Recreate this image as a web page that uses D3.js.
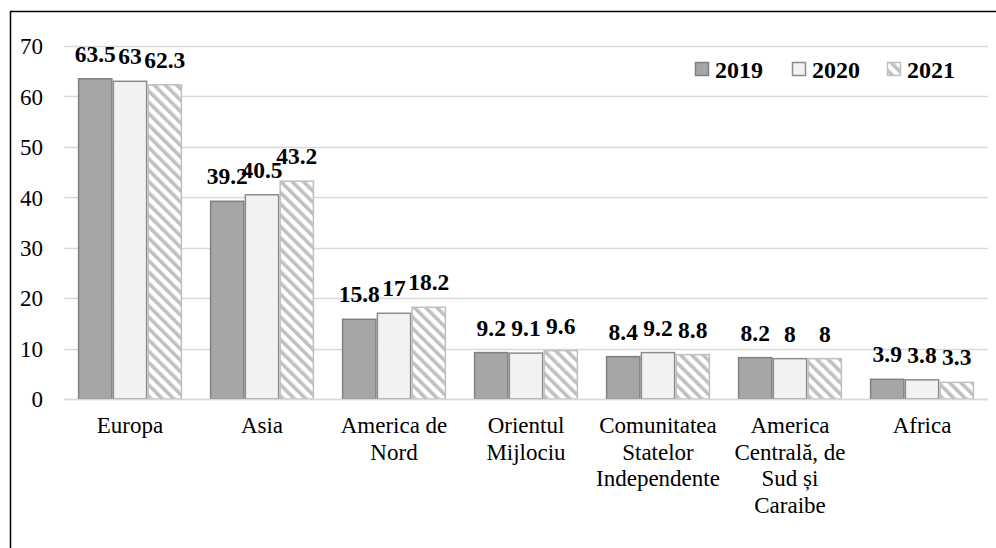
<!DOCTYPE html>
<html>
<head>
<meta charset="utf-8">
<script src="https://cdn.jsdelivr.net/npm/d3@7/dist/d3.min.js"></script>
<style>
  html, body { margin: 0; padding: 0; background: #fff; }
  svg { display: block; }
</style>
</head>
<body>
<svg id="chart" width="996" height="548"></svg>
<script>
// Regional values by year
const categories = [
  ["Europa"],
  ["Asia"],
  ["America de", "Nord"],
  ["Orientul", "Mijlociu"],
  ["Comunitatea", "Statelor", "Independente"],
  ["America", "Centrală, de", "Sud și", "Caraibe"],
  ["Africa"]
];
const years = ["2019", "2020", "2021"];
const values2019 = [63.5, 39.2, 15.8, 9.2, 8.4, 8.2, 3.9];
const values2020 = [63, 40.5, 17, 9.1, 9.2, 8, 3.8];
const values2021 = [62.3, 43.2, 18.2, 9.6, 8.8, 8, 3.3];
const yTicks = [0, 10, 20, 30, 40, 50, 60, 70];

const series = [values2019, values2020, values2021];
const catKeys = categories.map(c => c.join(" "));
const FONT = "Liberation Serif";

const svg = d3.select("#chart");
const plot = { left: 64, right: 988, top: 46, bottom: 399 };

// Hatch pattern for the third series
const defs = svg.append("defs");
const pat = defs.append("pattern")
  .attr("id", "hatch")
  .attr("patternUnits", "userSpaceOnUse")
  .attr("width", 8).attr("height", 8)
  .attr("patternTransform", "rotate(-45)");
pat.append("rect").attr("width", 8).attr("height", 8).attr("fill", "#ffffff");
pat.append("rect").attr("x", 0).attr("y", 0).attr("width", 3.6).attr("height", 8).attr("fill", "#c0c0c0");

const fills = ["#a6a6a6", "#f2f2f2", "url(#hatch)"];
const strokes = ["#7f7f7f", "#8c8c8c", "#bfbfbf"];

// Outer frame
svg.append("rect")
  .attr("x", 10.5).attr("y", 11.5)
  .attr("width", 1000).attr("height", 600)
  .attr("fill", "none").attr("stroke", "#000").attr("stroke-width", 1.5);

const x0 = d3.scaleBand()
  .domain(catKeys)
  .range([plot.left, plot.right])
  .paddingInner(0.21)
  .paddingOuter(0.105);
const x1 = d3.scaleBand()
  .domain(years)
  .range([0, x0.bandwidth()]);
const y = d3.scaleLinear().domain([0, 70]).range([plot.bottom, plot.top]);

// Gridlines
svg.append("g")
  .selectAll("line")
  .data(yTicks)
  .join("line")
  .attr("x1", plot.left).attr("x2", plot.right)
  .attr("y1", d => Math.round(y(d)) + 0.5).attr("y2", d => Math.round(y(d)) + 0.5)
  .attr("stroke", "#d9d9d9").attr("stroke-width", 1.5);

// Y axis labels
const yAxis = d3.axisLeft(y).tickValues(yTicks).tickSize(0).tickPadding(0).tickFormat(d3.format("d"));
const gy = svg.append("g").attr("transform", "translate(43,0)").call(yAxis)
  .attr("font-family", FONT).attr("font-size", 23);
gy.select(".domain").remove();
gy.selectAll("text")
  .attr("font-family", FONT)
  .attr("font-size", 23).attr("fill", "#000").attr("dy", "0.34em");

// Bars
const groups = svg.append("g")
  .selectAll("g")
  .data(catKeys)
  .join("g")
  .attr("transform", d => `translate(${x0(d)},0)`);

groups.selectAll("rect")
  .data((d, i) => years.map((yr, s) => ({ yr, s, v: series[s][i] })))
  .join("rect")
  .attr("x", d => x1(d.yr) + 0.75)
  .attr("y", d => y(d.v))
  .attr("width", x1.bandwidth() - 1.5)
  .attr("height", d => y(0) - y(d.v))
  .attr("fill", d => fills[d.s])
  .attr("stroke", d => strokes[d.s])
  .attr("stroke-width", 1.5);

// Baseline
svg.append("line")
  .attr("x1", plot.left).attr("x2", plot.right)
  .attr("y1", y(0) + 0.5).attr("y2", y(0) + 0.5)
  .attr("stroke", "#d9d9d9").attr("stroke-width", 1.5);

// Value labels
groups.selectAll("text.val")
  .data((d, i) => years.map((yr, s) => ({ yr, s, v: series[s][i] })))
  .join("text")
  .attr("class", "val")
  .attr("x", d => x1(d.yr) + x1.bandwidth() / 2)
  .attr("y", d => y(d.v) - 17)
  .attr("text-anchor", "middle")
  .attr("font-family", FONT)
  .attr("font-weight", "bold")
  .attr("font-size", 23.5)
  .attr("fill", "#000")
  .text(d => String(d.v));

// Category labels
const xl = svg.append("g");
catKeys.forEach((k, i) => {
  const cx = x0(k) + x0.bandwidth() / 2;
  const t = xl.append("text")
    .attr("x", cx)
    .attr("y", 433)
    .attr("text-anchor", "middle")
    .attr("font-family", FONT)
    .attr("font-size", 23)
    .attr("fill", "#000");
  categories[i].forEach((line, j) => {
    t.append("tspan")
      .attr("x", cx)
      .attr("dy", j === 0 ? 0 : 26.5)
      .text(line);
  });
});

// Legend
const legendX = [695, 792, 887];
const leg = svg.append("g");
years.forEach((yr, s) => {
  leg.append("rect")
    .attr("x", legendX[s] + 0.5).attr("y", 62.5)
    .attr("width", 13).attr("height", 13)
    .attr("fill", fills[s])
    .attr("stroke", strokes[s]).attr("stroke-width", 1.5);
  leg.append("text")
    .attr("x", legendX[s] + 20).attr("y", 77.5)
    .attr("font-family", FONT)
    .attr("font-weight", "bold").attr("font-size", 24)
    .attr("fill", "#000")
    .text(yr);
});
</script>
</body>
</html>
